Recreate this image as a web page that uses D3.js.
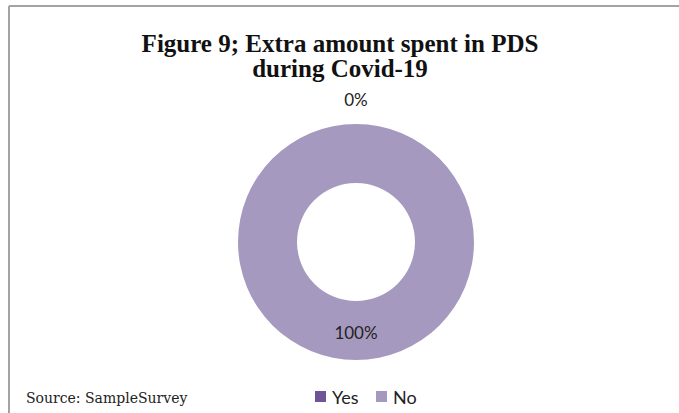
<!DOCTYPE html>
<html>
<head>
<meta charset="utf-8">
<script src="https://cdn.jsdelivr.net/npm/d3@7"></script>
<style>
  html, body { margin: 0; padding: 0; background: #fff; }
  svg { display: block; }
</style>
</head>
<body>
<svg id="chart" width="679" height="413"></svg>
<script>
// Survey response: extra amount spent in PDS during Covid-19
const categories = ["Yes", "No"];
const shares = [0, 100];
const colors = ["#6f5597", "#a699bf"];
const titleLines = ["Figure 9; Extra amount spent in PDS", "during Covid-19"];
const sourceNote = "Source: SampleSurvey";

const svg = d3.select("#chart");
const W = 679, H = 413;

// frame lines (top and left)
svg.append("line").attr("x1", 9).attr("x2", W).attr("y1", 6).attr("y2", 6)
  .attr("stroke", "#a3a3a3").attr("stroke-width", 2);
svg.append("line").attr("x1", 9).attr("x2", 9).attr("y1", 6).attr("y2", H)
  .attr("stroke", "#a3a3a3").attr("stroke-width", 2);

// title
svg.append("g").selectAll("text").data(titleLines).join("text")
  .attr("x", 340).attr("y", (d, i) => 52 + i * 25)
  .attr("text-anchor", "middle")
  .attr("font-family", "'Liberation Serif', 'Times New Roman', serif")
  .attr("font-weight", "bold").attr("font-size", 25)
  .attr("fill", "#111")
  .text(d => d);

// donut
const cx = 356, cy = 242, rOuter = 118, rInner = 59;
const data = categories.map((c, i) => ({ cat: c, value: shares[i], color: colors[i] }));
const pie = d3.pie().sort(null).value(d => d.value);
const arcs = pie(data);
const arc = d3.arc().innerRadius(rInner).outerRadius(rOuter);
const g = svg.append("g").attr("transform", `translate(${cx},${cy})`);
g.selectAll("path").data(arcs).join("path")
  .attr("d", arc).attr("fill", d => d.data.color);

// value labels: inside the ring, or just outside when the slice is empty
const outerLabelArc = d3.arc().innerRadius(rOuter + 25).outerRadius(rOuter + 25);
g.selectAll("text").data(arcs).join("text")
  .attr("transform", d => `translate(${(d.value > 0 ? arc : outerLabelArc).centroid(d)})`)
  .attr("text-anchor", "middle").attr("dy", d => d.value > 0 ? "0.5em" : "0.4em")
  .attr("font-family", "Lato, 'Open Sans', sans-serif").attr("font-size", 17)
  .attr("fill", "#222")
  .text(d => d3.format(".0%")(d.value / d3.sum(shares)));

// source note
svg.append("text").attr("x", 26).attr("y", 403)
  .attr("font-family", "'DejaVu Serif', serif")
  .attr("font-size", 14).attr("fill", "#222")
  .text(sourceNote);

// legend
const legendX = d3.scalePoint().domain(categories).range([315, 376]);
const lg = svg.append("g").selectAll("g").data(data).join("g")
  .attr("transform", d => `translate(${legendX(d.cat)},391)`);
lg.append("rect").attr("width", 11).attr("height", 11).attr("fill", d => d.color);
lg.append("text").attr("x", 17).attr("y", 13)
  .attr("font-family", "Lato, 'Open Sans', sans-serif").attr("font-size", 18)
  .attr("fill", "#222").text(d => d.cat);
</script>
</body>
</html>
